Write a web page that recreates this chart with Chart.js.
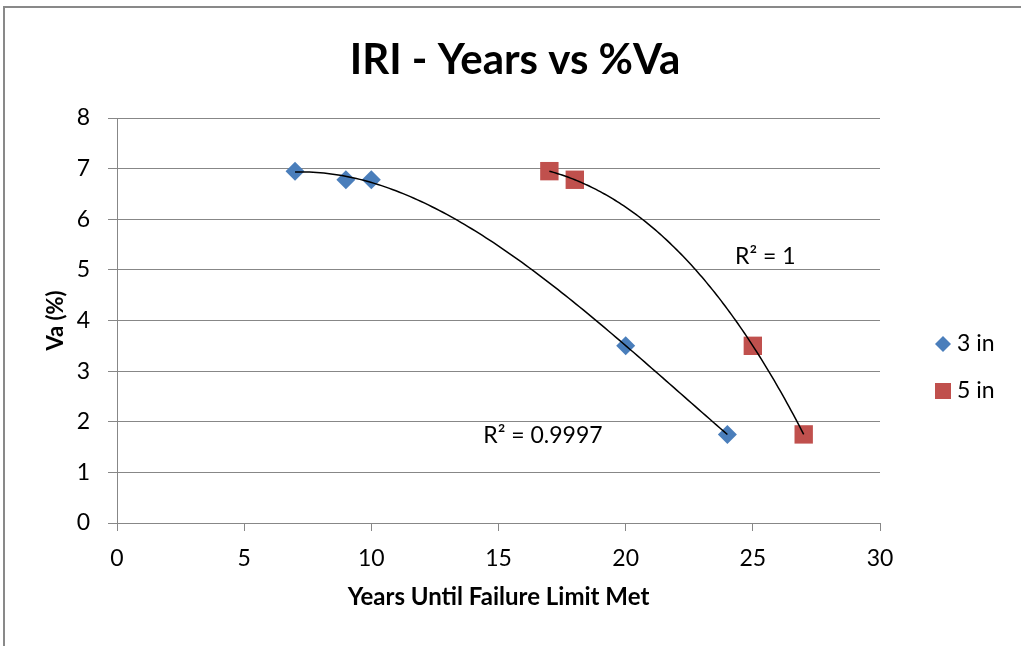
<!DOCTYPE html>
<html>
<head>
<meta charset="utf-8">
<script src="https://cdn.jsdelivr.net/npm/chart.js@4/dist/chart.umd.min.js"></script>
<style>
  html, body { margin: 0; padding: 0; background: #fff; }
  canvas { display: block; }
</style>
</head>
<body>
<canvas id="c" width="1021" height="646"></canvas>
<script>
// ---- data ----
const seriesNames = ['3 in', '5 in'];
const x3in = [7, 9, 10, 20, 24];
const y3in = [6.95, 6.78, 6.78, 3.5, 1.75];
const x5in = [17, 18, 25, 27];
const y5in = [6.95, 6.78, 3.5, 1.75];
const trendOrders = [3, 3];              // polynomial trendline orders
const rSquaredTexts = ['R\u00B2 = 0.9997', 'R\u00B2 = 1'];
const xTicks = [0, 5, 10, 15, 20, 25, 30];
const yTicks = [0, 1, 2, 3, 4, 5, 6, 7, 8];
const titleText = 'IRI - Years vs %Va';
const xTitle = 'Years Until Failure Limit Met';
const yTitle = 'Va (%)';

// ---- styles ----
const FONT = 'Lato, "Open Sans", sans-serif';
const GRID = '#878787';
const BLUE = '#4A7EBB';
const RED = '#C0504D';
const rLabelPos = [{x: 14.4, y: 1.72}, {x: 24.3, y: 5.26}];

// least-squares polynomial fit (from the data arrays)
function polyfit(xs, ys, n) {
  const m = n + 1;
  const A = [];
  for (let i = 0; i < m; i++) {
    A.push(new Array(m + 1).fill(0));
    for (let j = 0; j < m; j++) {
      let s = 0; for (const x of xs) s += Math.pow(x, i + j);
      A[i][j] = s;
    }
    let t = 0; xs.forEach((x, k) => t += Math.pow(x, i) * ys[k]);
    A[i][m] = t;
  }
  for (let c = 0; c < m; c++) {
    let p = c;
    for (let r = c + 1; r < m; r++) if (Math.abs(A[r][c]) > Math.abs(A[p][c])) p = r;
    [A[c], A[p]] = [A[p], A[c]];
    for (let r = 0; r < m; r++) {
      if (r === c) continue;
      const f = A[r][c] / A[c][c];
      for (let k = c; k <= m; k++) A[r][k] -= f * A[c][k];
    }
  }
  return A.map((row, i) => row[m] / row[i]);
}
function trendPoints(xs, ys, n) {
  const co = polyfit(xs, ys, n);
  const lo = Math.min(...xs), hi = Math.max(...xs);
  const pts = [];
  const N = 120;
  for (let i = 0; i <= N; i++) {
    const x = lo + (hi - lo) * i / N;
    let y = 0; co.forEach((c, k) => y += c * Math.pow(x, k));
    pts.push({x, y});
  }
  return pts;
}
const toPts = (xs, ys) => xs.map((x, i) => ({x, y: ys[i]}));

const decor = {
  id: 'decor',
  beforeDraw(chart) {
    const ctx = chart.ctx;
    ctx.save();
    ctx.fillStyle = '#fff';
    ctx.fillRect(0, 0, chart.width, chart.height);
    ctx.strokeStyle = '#898989';
    ctx.lineWidth = 2;
    ctx.strokeRect(4, 7, chart.width + 10, chart.height + 10);
    ctx.restore();
  },
  afterDraw(chart) {
    const ctx = chart.ctx;
    const xs = chart.scales.x, ys = chart.scales.y;
    ctx.save();
    // title
    ctx.fillStyle = '#000';
    ctx.font = 'bold 42px ' + FONT;
    ctx.textAlign = 'center';
    ctx.textBaseline = 'middle';
    ctx.fillText(titleText, 515, 60);
    // R² labels
    ctx.font = '23px ' + FONT;
    ctx.textAlign = 'left';
    rSquaredTexts.forEach((t, i) => {
      ctx.fillText(t, xs.getPixelForValue(rLabelPos[i].x), ys.getPixelForValue(rLabelPos[i].y));
    });
    // legend
    const lx = 943, ly = [344, 391];
    ctx.fillStyle = BLUE;
    ctx.beginPath();
    ctx.moveTo(lx - 8, ly[0]); ctx.lineTo(lx, ly[0] - 8); ctx.lineTo(lx + 8, ly[0]); ctx.lineTo(lx, ly[0] + 8);
    ctx.closePath(); ctx.fill();
    ctx.fillStyle = RED;
    ctx.fillRect(lx - 8, ly[1] - 8, 16, 16);
    ctx.fillStyle = '#000';
    ctx.fillText(seriesNames[0], 957, ly[0]);
    ctx.fillText(seriesNames[1], 957, ly[1]);
    ctx.restore();
  }
};

new Chart(document.getElementById('c'), {
  type: 'scatter',
  data: {
    datasets: [
      { label: seriesNames[0] + ' trend', type: 'line', data: trendPoints(x3in, y3in, trendOrders[0]),
        borderColor: '#000', borderWidth: 1.5, pointRadius: 0, fill: false, tension: 0, order: 0 },
      { label: seriesNames[1] + ' trend', type: 'line', data: trendPoints(x5in, y5in, trendOrders[1]),
        borderColor: '#000', borderWidth: 1.5, pointRadius: 0, fill: false, tension: 0, order: 0 },
      { label: seriesNames[0], data: toPts(x3in, y3in), pointStyle: 'rectRot', pointRadius: 9.5,
        backgroundColor: BLUE, borderColor: BLUE, borderWidth: 0, order: 1 },
      { label: seriesNames[1], data: toPts(x5in, y5in), pointStyle: 'rect', pointRadius: 13,
        backgroundColor: RED, borderColor: RED, borderWidth: 0, order: 1 }
    ]
  },
  options: {
    responsive: false,
    animation: false,
    devicePixelRatio: 1,
    layout: { padding: { left: 0, right: 141, top: 118, bottom: 0 } },
    plugins: {
      legend: { display: false },
      tooltip: { enabled: false },
      title: { display: false }
    },
    scales: {
      x: {
        type: 'linear', min: 0, max: 30,
        afterBuildTicks: s => { s.ticks = xTicks.map(v => ({value: v})); },
        afterFit: s => { s.height = 123; },
        grid: { drawOnChartArea: false, drawTicks: true, tickLength: 8, color: GRID, lineWidth: 1 },
        border: { display: true, color: GRID, width: 1 },
        ticks: { color: '#000', font: { family: FONT, size: 23 }, padding: 14, maxRotation: 0 },
        title: { display: true, text: xTitle, color: '#000',
                 font: { family: FONT, size: 24, weight: 'bold', lineHeight: 1.2 },
                 padding: { top: 0, bottom: 34 } }
      },
      y: {
        type: 'linear', min: 0, max: 8,
        afterBuildTicks: s => { s.ticks = yTicks.map(v => ({value: v})); },
        afterFit: s => { s.width = 117; },
        grid: { drawOnChartArea: true, drawTicks: true, tickLength: 9, color: GRID, lineWidth: 1 },
        border: { display: true, color: GRID, width: 1 },
        ticks: { color: '#000', font: { family: FONT, size: 23 }, padding: 18 },
        title: { display: true, text: yTitle, color: '#000',
                 font: { family: FONT, size: 22, weight: 'bold', lineHeight: 1.2 },
                 padding: { top: 43, bottom: 0 } }
      }
    }
  },
  plugins: [decor]
});
</script>
</body>
</html>
